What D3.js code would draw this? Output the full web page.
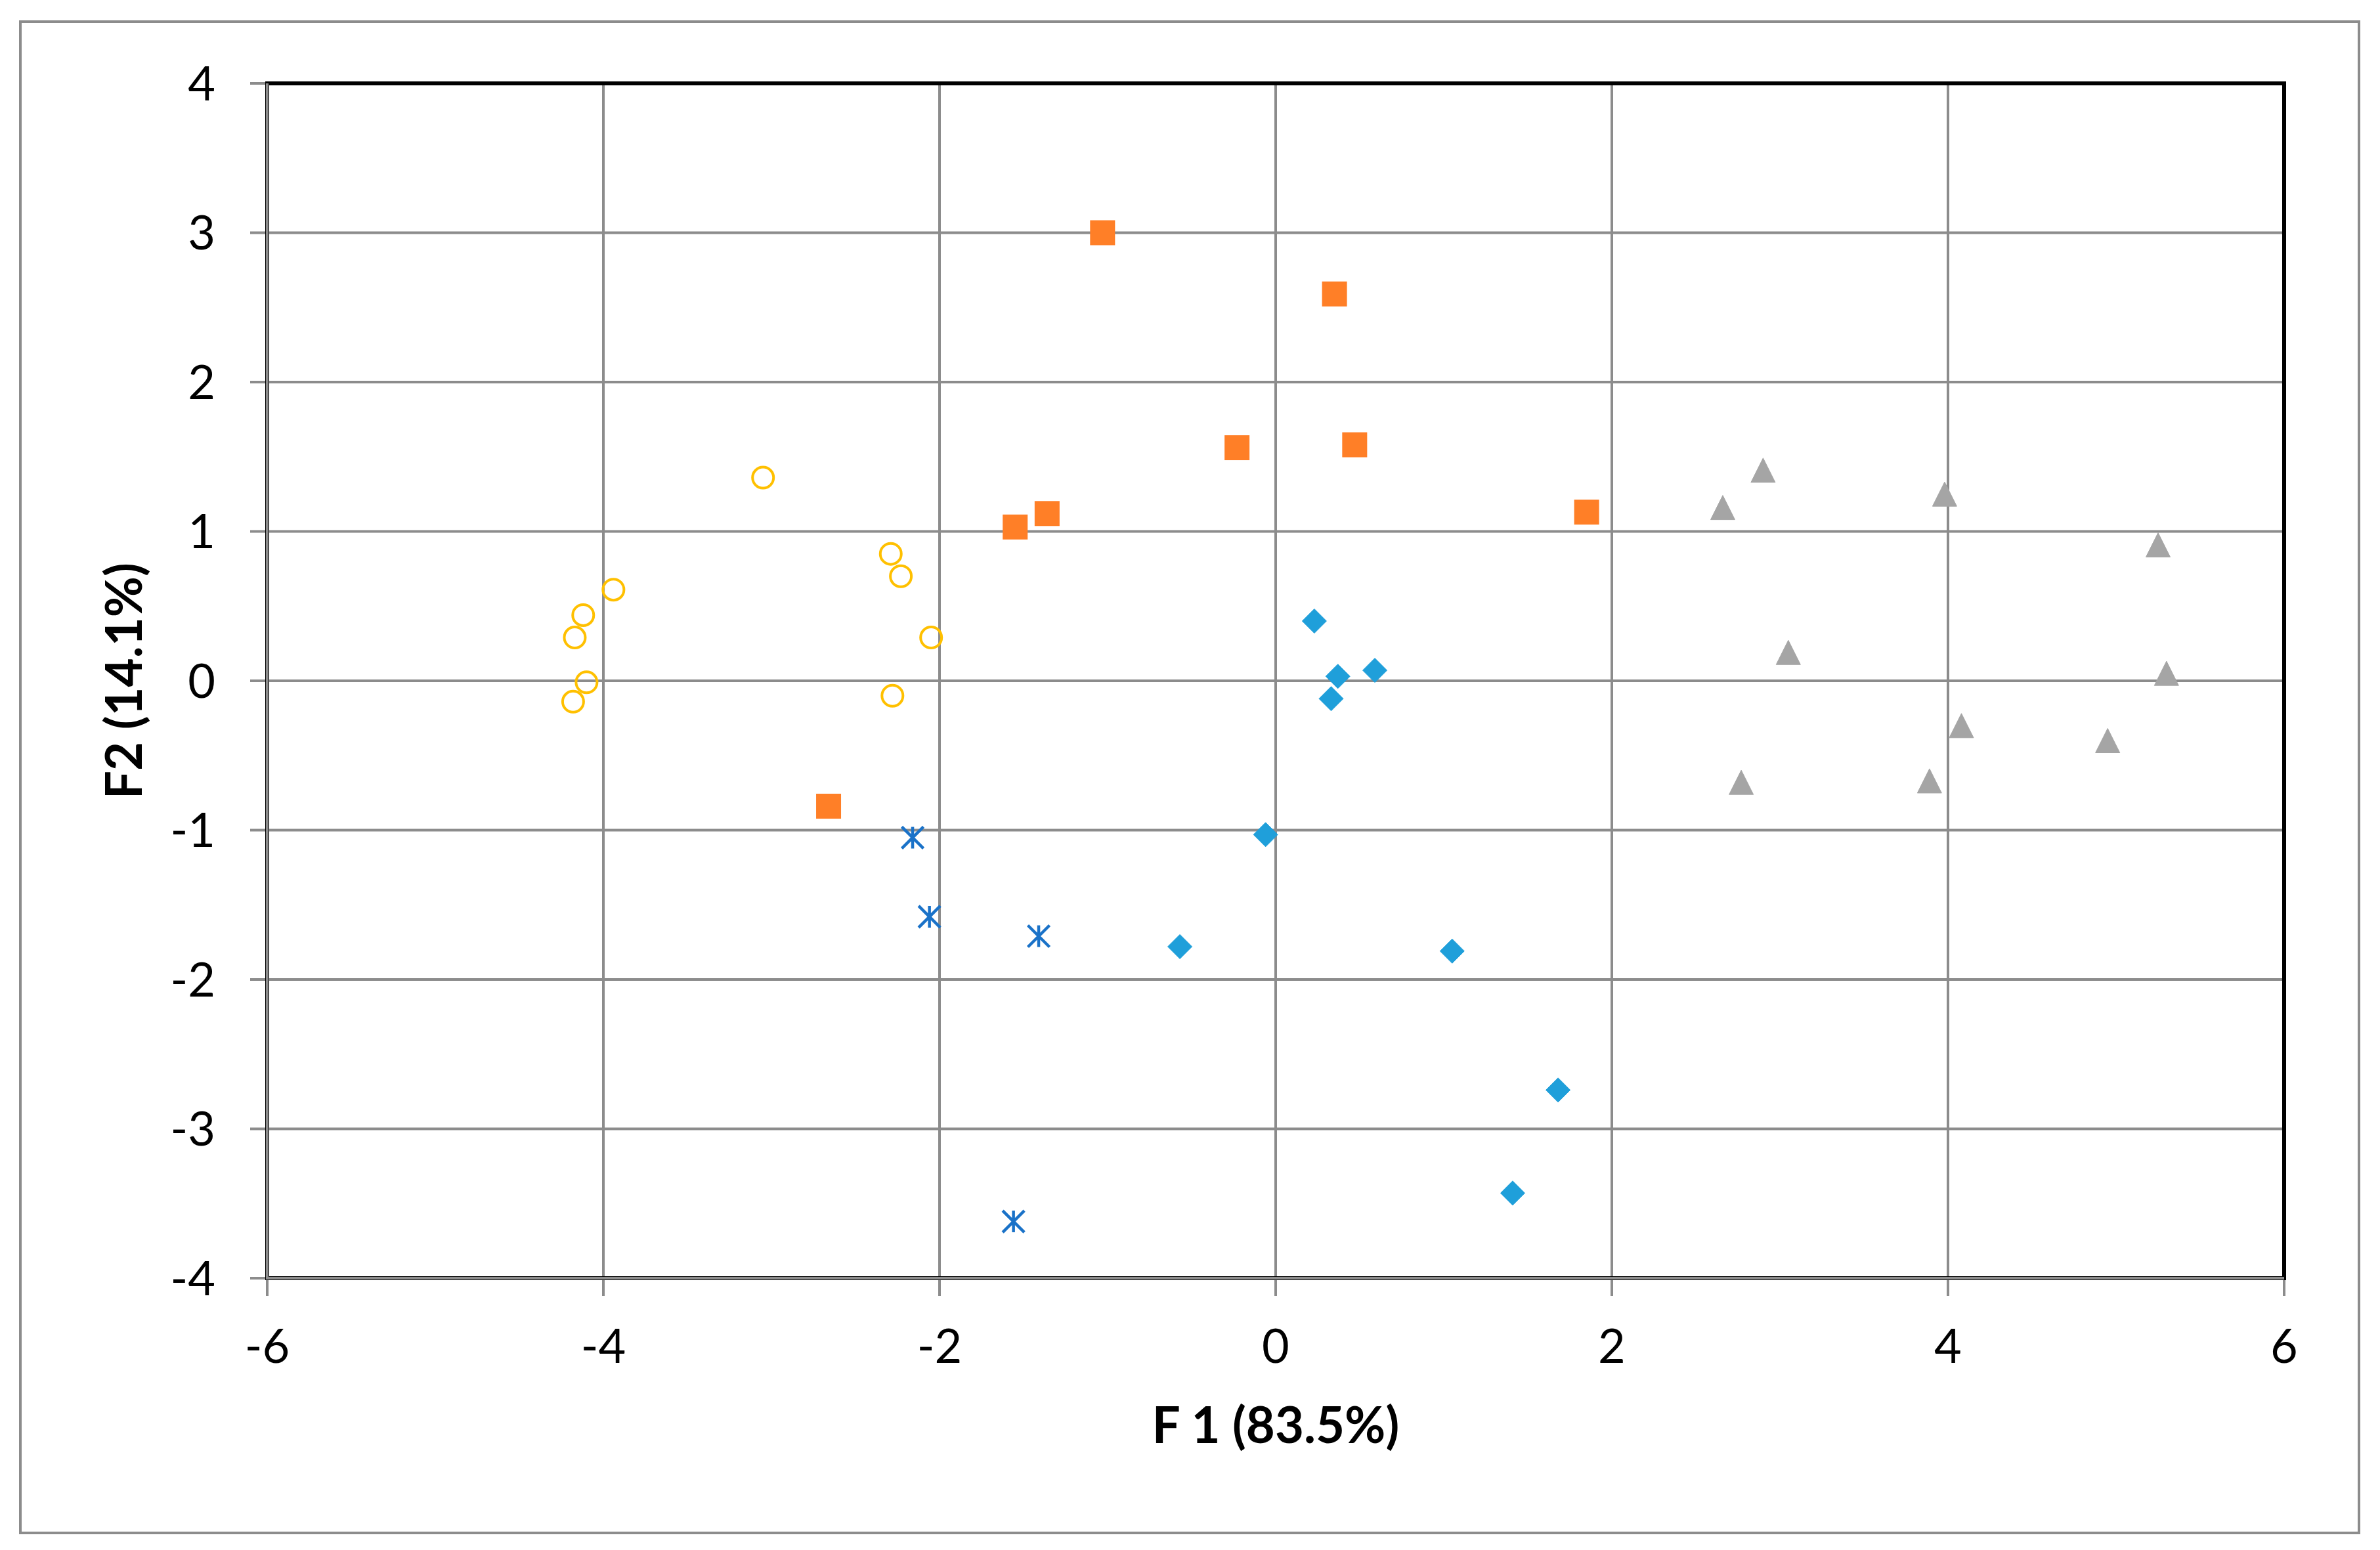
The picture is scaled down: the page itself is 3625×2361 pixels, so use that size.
<!DOCTYPE html>
<html>
<head>
<meta charset="utf-8">
<script src="https://cdn.jsdelivr.net/npm/d3@7"></script>
<style>
  body { margin: 0; background: #fff; }
  text { font-family: Lato, "Open Sans", sans-serif; fill: #000; }
</style>
</head>
<body>
<svg id="plot"></svg>
<script>
// data (F1, F2 scores)
const circleF1 = [-3.05, -2.29, -2.23, -3.94, -4.12, -4.17, -2.05, -4.10, -4.18, -2.28];
const circleF2 = [1.36, 0.85, 0.70, 0.61, 0.44, 0.29, 0.29, -0.01, -0.14, -0.10];

const squareF1 = [-1.03, 0.35, -0.23, 0.47, -1.36, -1.55, 1.85, -2.66];
const squareF2 = [3.00, 2.59, 1.56, 1.58, 1.12, 1.03, 1.13, -0.84];

const diamondF1 = [0.23, 0.37, 0.59, 0.33, -0.06, -0.57, 1.05, 1.68, 1.41];
const diamondF2 = [0.40, 0.03, 0.07, -0.12, -1.03, -1.78, -1.81, -2.74, -3.43];

const starF1 = [-2.16, -2.06, -1.41, -1.56];
const starF2 = [-1.05, -1.58, -1.71, -3.62];

const triangleF1 = [2.90, 2.66, 3.98, 5.25, 3.05, 5.30, 4.08, 4.95, 2.77, 3.89];
const triangleF2 = [1.41, 1.16, 1.25, 0.91, 0.19, 0.05, -0.30, -0.40, -0.68, -0.67];

const xTicks = [-6, -4, -2, 0, 2, 4, 6];
const yTicks = [-4, -3, -2, -1, 0, 1, 2, 3, 4];
const xLabel = "F 1 (83.5%)";
const yLabel = "F2 (14.1%)";

// setting
const W = 3625, H = 2361;
const svg = d3.select("#plot").attr("width", W).attr("height", H);
const margin = { top: 127, right: 146, bottom: 414, left: 407 };
const gridColor = "#8c8c8c";

const xScale = d3.scaleLinear().domain([-6, 6]).range([margin.left, W - margin.right]);
const yScale = d3.scaleLinear().domain([-4, 4]).range([H - margin.bottom, margin.top]);

// outer frame
svg.append("rect")
    .attr("x", 31).attr("y", 33)
    .attr("width", 3562).attr("height", 2302)
    .attr("fill", "none")
    .attr("stroke", gridColor)
    .attr("stroke-width", 4);

// grid lines
svg.append("g")
    .selectAll("line")
    .data(xTicks)
    .enter().append("line")
    .attr("x1", d => xScale(d)).attr("x2", d => xScale(d))
    .attr("y1", yScale(4)).attr("y2", yScale(-4) + 27)
    .attr("stroke", gridColor).attr("stroke-width", 4);

svg.append("g")
    .selectAll("line")
    .data(yTicks)
    .enter().append("line")
    .attr("x1", xScale(-6) - 26).attr("x2", xScale(6))
    .attr("y1", d => yScale(d)).attr("y2", d => yScale(d))
    .attr("stroke", gridColor).attr("stroke-width", 4);

// top and right borders are black
svg.append("path")
    .attr("d", `M${xScale(-6)},${yScale(4)}H${xScale(6)}V${yScale(-4)}`)
    .attr("fill", "none")
    .attr("stroke", "#000")
    .attr("stroke-width", 6)
    .attr("stroke-linecap", "square");

// left and bottom axes: gray line with thin black edges
const axisPath = `M${xScale(-6)},${yScale(4)}V${yScale(-4)}H${xScale(6)}`;
svg.append("path").attr("d", axisPath).attr("fill", "none")
    .attr("stroke", "#000").attr("stroke-width", 6);
svg.append("path").attr("d", axisPath).attr("fill", "none")
    .attr("stroke", gridColor).attr("stroke-width", 4);

// tick labels
svg.append("g")
    .selectAll("text")
    .data(xTicks)
    .enter().append("text")
    .attr("x", d => xScale(d))
    .attr("y", 2076)
    .attr("text-anchor", "middle")
    .style("font-size", "72px")
    .text(d => d);

svg.append("g")
    .selectAll("text")
    .data(yTicks)
    .enter().append("text")
    .attr("x", 328)
    .attr("y", d => yScale(d))
    .attr("dy", "0.36em")
    .attr("text-anchor", "end")
    .style("font-size", "72px")
    .text(d => d);

// axis titles
svg.append("text")
    .attr("x", (xScale(-6) + xScale(6)) / 2)
    .attr("y", 2198)
    .attr("text-anchor", "middle")
    .style("font-size", "76px")
    .style("font-weight", "bold")
    .text(xLabel);

svg.append("text")
    .attr("transform", `translate(216, ${(yScale(4) + yScale(-4)) / 2}) rotate(-90)`)
    .attr("text-anchor", "middle")
    .style("font-size", "76px")
    .style("font-weight", "bold")
    .text(yLabel);

// marker shapes (s = full size in px)
const shapes = {
    square: s => `M${-s/2},${-s/2}h${s}v${s}h${-s}Z`,
    diamond: s => `M0,${-s/2}L${s/2},0L0,${s/2}L${-s/2},0Z`,
    triangle: s => `M0,${-s/2}L${s/2},${s/2}L${-s/2},${s/2}Z`,
    star: s => `M0,${-s/2}V${s/2}M${-s/2},${-s/2}L${s/2},${s/2}M${s/2},${-s/2}L${-s/2},${s/2}`
};

function drawPoints(xs, ys, cls, draw) {
    const pts = xs.map((x, i) => ({ x: x, y: ys[i] }));
    const g = svg.append("g").attr("class", cls);
    const sel = g.selectAll("." + cls)
        .data(pts)
        .enter();
    draw(sel);
}

// yellow open circles
drawPoints(circleF1, circleF2, "circle", sel => sel.append("circle")
    .attr("cx", d => xScale(d.x))
    .attr("cy", d => yScale(d.y))
    .attr("r", 16)
    .attr("fill", "none")
    .attr("stroke", "#ffc000")
    .attr("stroke-width", 4));

// orange squares
drawPoints(squareF1, squareF2, "square", sel => sel.append("path")
    .attr("transform", d => `translate(${xScale(d.x)},${yScale(d.y)})`)
    .attr("d", shapes.square(38))
    .attr("fill", "#ff7f27"));

// blue diamonds
drawPoints(diamondF1, diamondF2, "diamond", sel => sel.append("path")
    .attr("transform", d => `translate(${xScale(d.x)},${yScale(d.y)})`)
    .attr("d", shapes.diamond(37))
    .attr("fill", "#1f9fda")
    .attr("stroke", "#1f9fda")
    .attr("stroke-width", 1)
    .attr("stroke-linejoin", "round"));

// dark blue asterisks
drawPoints(starF1, starF2, "star", sel => sel.append("path")
    .attr("transform", d => `translate(${xScale(d.x)},${yScale(d.y)})`)
    .attr("d", shapes.star(33))
    .attr("fill", "none")
    .attr("stroke", "#1a72c8")
    .attr("stroke-width", 4.5));

// gray triangles
drawPoints(triangleF1, triangleF2, "triangle", sel => sel.append("path")
    .attr("transform", d => `translate(${xScale(d.x)},${yScale(d.y)})`)
    .attr("d", shapes.triangle(37))
    .attr("fill", "#a5a5a5")
    .attr("stroke", "#a5a5a5")
    .attr("stroke-width", 1)
    .attr("stroke-linejoin", "round"));
</script>
</body>
</html>
